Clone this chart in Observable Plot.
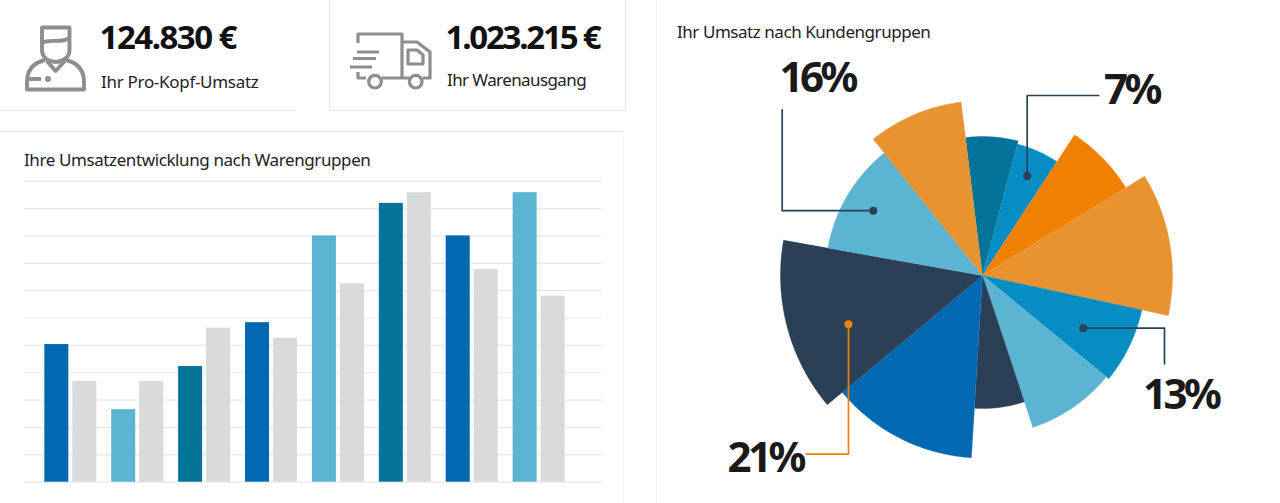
<!DOCTYPE html>
<html lang="de">
<head>
<meta charset="utf-8">
<script src="https://cdn.jsdelivr.net/npm/d3@7"></script>
<script src="https://cdn.jsdelivr.net/npm/@observablehq/plot@0.6"></script>
<style>
html,body{margin:0;padding:0;background:#fff;width:1280px;height:503px;overflow:hidden}
#page{position:relative;width:1280px;height:503px;font-family:"Noto Sans",sans-serif;color:#1a1a1a}
.line{position:absolute;background:#e8e8e9}
.value{position:absolute;font-weight:700;font-size:33px;line-height:40px;letter-spacing:-1.45px;color:#111;white-space:nowrap}
.label{position:absolute;font-size:17px;line-height:22px;letter-spacing:-.4px;color:#222;white-space:nowrap}
.icon{position:absolute;left:0;top:0;overflow:visible;fill:none;stroke:#8e8e8e;stroke-width:3.200;stroke-linejoin:round}
#bars,#pie{position:absolute}
#bars{left:24px;top:170px}
#pie{left:657px;top:0}
</style>
</head>
<body>
<div id="page">
  <div class="line" style="left:0;top:110px;width:296px;height:1px"></div>
  <div class="line" style="left:329px;top:0;width:1px;height:111px"></div>
  <div class="line" style="left:329px;top:110px;width:296px;height:1px"></div>
  <div class="line" style="left:625px;top:0;width:1px;height:111px"></div>
  <div class="line" style="left:0;top:131px;width:623px;height:1px"></div>
  <div class="line" style="left:623px;top:131px;width:1px;height:372px;background:#f3f3f4"></div>
  <div class="line" style="left:656px;top:0;width:1px;height:503px;background:#eeeeef"></div>

  <svg class="icon" width="460" height="100">
    <g stroke-width="3.900">
      <path d="M42 27.500H69.500V50C69.500 57 63 62 55.500 62S42 57 42 50Z"/>
      <path d="M42 43C50 38 60 44 69.500 38"/>
      <path d="M45 60C33 63 27 71 27 82V89.500H84V82C84 71 78 63 66 60"/>
      <path d="M47 61L55.500 71L65 61"/>
      <path d="M28 79H41"/><circle cx="48" cy="79" r="1" fill="#8e8e8e"/>
    </g>
    <path d="M358 43V34H402V77M402 42H417L430 52V78H423"/>
    <path d="M408 50H417L423 55V64H408Z"/>
    <path d="M357 52H379M353 58.500H376M350 67H372M358 72V78H366M382 78H409"/>
    <circle cx="375" cy="81.700" r="6.300"/><circle cx="415.700" cy="81.700" r="6.300"/>
  </svg>

  <div class="value" style="left:99.500px;top:17px;letter-spacing:-1.500px">124.830 €</div>
  <div class="label" style="left:101px;top:71px;letter-spacing:-.3px">Ihr Pro-Kopf-Umsatz</div>
  <div class="value" style="left:445.500px;top:17px;letter-spacing:-2.200px">1.023.215 €</div>
  <div class="label" style="left:447px;top:69px;letter-spacing:-.6px">Ihr Warenausgang</div>
  <div class="label" style="left:24px;top:149px">Ihre Umsatzentwicklung nach Warengruppen</div>
  <div class="label" style="left:677px;top:21px;letter-spacing:-.45px">Ihr Umsatz nach Kundengruppen</div>

  <div id="bars"></div>
  <div id="pie"></div>
</div>
<script>
// Bar chart data, in grid units (one grid step = 10)
const groups = ["1","2","3","4","5","6","7","8"];
const currentValues = [50.3, 26.5, 42.3, 58.3, 90, 101.9, 90, 105.8];
const previousValues = [36.8, 36.8, 56.3, 52.6, 72.5, 105.8, 77.7, 68];
const currentTones = ["cobalt","light","teal","cobalt","light","teal","cobalt","light"];
const gridValues = [0,10,20,30,40,50,60,70,80,90,100,110];

// Pie data: slice boundaries (degrees clockwise from north), radii and tones
const sliceEdges = [-7, 14.9, 33.2, 58.5, 102.2, 129.3, 161.7, 183.5, 230.2, 280.1, 321.3, 353];
const sliceRadii = [139, 136, 168, 190, 163, 160, 133, 182.5, 202, 157, 174.7];
const sliceTones = ["teal","sky","tangerine","amber","sky","light","navy","cobalt","navy","light","amber"];

// Callouts
const calloutLabels = ["7%","16%","13%","21%"];

const toneNames = ["cobalt","light","teal","sky","tangerine","amber","navy","muted"];
const toneColors = ["#0069b1","#5ab4d2","#04739a","#078cc3","#f08000","#e89230","#2a4057","#d9dadc"];
const colorScale = {type:"ordinal", domain:toneNames, range:toneColors};

// ---- Bars
const currentRows = groups.map((g,i)=>({group:g, value:currentValues[i], tone:currentTones[i]}));
const previousRows = groups.map((g,i)=>({group:g, value:previousValues[i], tone:"muted"}));
document.getElementById("bars").append(Plot.plot({
  width:577.300, height:320, marginLeft:0, marginRight:0, marginTop:10.700, marginBottom:8.300,
  style:{background:"transparent", overflow:"visible"},
  color:colorScale,
  x:{axis:null, type:"band", round:false, domain:groups, paddingInner:.641, paddingOuter:.635, align:.239},
  y:{axis:null, domain:[0,110]},
  marks:[
    Plot.ruleY(gridValues,{stroke:"#e6e7e8", strokeWidth:1.200}),
    Plot.barY(currentRows,{x:"group", y:"value", fill:"tone"}),
    Plot.barY(previousRows,{x:"group", y:"value", fill:"tone", dx:28})
  ]
}));

// ---- Pie
const polar = (deg,r)=>{const a=deg*Math.PI/180; return {x:r*Math.sin(a), y:-r*Math.cos(a)};};
const sliceRows = sliceRadii.flatMap((r,i)=>{
  const a0=sliceEdges[i], a1=sliceEdges[i+1], n=Math.ceil((a1-a0)*2);
  const base={slice:i, tone:sliceTones[i]};
  return [{...base,x:0,y:0},
    ...d3.range(n+1).map(k=>({...base,...polar(a0+(a1-a0)*k/n,r)}))];
});

const dotPlaces = [[24.2,109],[300.7,127],[117.6,113.700],[250,142.600]];
const dots = dotPlaces.map(([a,r])=>polar(a,r));
const leaderPaths = [
  [dots[0],{x:dots[0].x,y:-180},{x:116.300,y:-180}],
  [dots[1],{x:-200.300,y:dots[1].y},{x:-200.300,y:-165.700}],
  [dots[2],{x:182,y:dots[2].y},{x:182,y:88.300}],
  [dots[3],{x:dots[3].x,y:178.700},{x:-176.300,y:178.700}]
];
const leaderRows = leaderPaths.flatMap((p,i)=>p.map(q=>({...q,id:i,c:i===3?"#f08000":"#2a4057"})));
const dotRows = dots.map((d,i)=>({...d,c:i===3?"#f08000":"#2a4057"}));
const labelRows = calloutLabels.map((t,i)=>({
  t, x:[121.500,-203,160.500,-255][i], y:[-172,-183.500,133,196][i]
}));

document.getElementById("pie").append(Plot.plot({
  width:623, height:503, margin:0,
  style:{background:"transparent", overflow:"visible", fontFamily:"'Noto Sans',sans-serif", letterSpacing:"-3.500px"},
  color:colorScale,
  x:{axis:null, domain:[-325,298], range:[0,623]},
  y:{axis:null, domain:[-275,228], range:[0,503]},
  marks:[
    Plot.line(sliceRows,{x:"x", y:"y", z:"slice", fill:"tone", stroke:"tone", strokeWidth:.400}),
    Plot.line(leaderRows,{x:"x", y:"y", z:"id", stroke:"c", strokeWidth:1.700}),
    Plot.dot(dotRows,{x:"x", y:"y", r:4, fill:"c", stroke:null}),
    Plot.text(labelRows,{x:"x", y:"y", text:"t", textAnchor:"start", lineAnchor:"bottom", fontSize:42, fontWeight:700, fill:"#1a1a1a"})
  ]
}));
</script>
</body>
</html>
